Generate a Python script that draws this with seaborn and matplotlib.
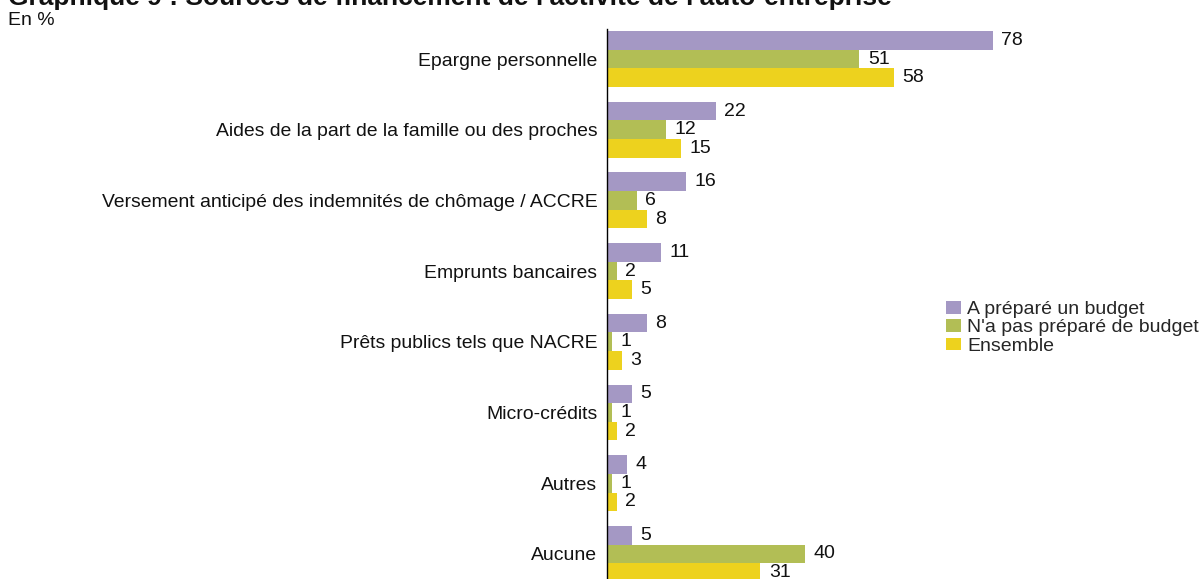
import matplotlib
matplotlib.use("Agg")
import matplotlib.pyplot as plt
import pandas as pd
import seaborn as sns

categories = [
    "Epargne personnelle",
    "Aides de la part de la famille ou des proches",
    "Versement anticipé des indemnités de chômage / ACCRE",
    "Emprunts bancaires",
    "Prêts publics tels que NACRE",
    "Micro-crédits",
    "Autres",
    "Aucune",
]
series = ["A préparé un budget", "N'a pas préparé de budget", "Ensemble"]
budget = [78, 22, 16, 11, 8, 5, 4, 5]
no_budget = [51, 12, 6, 2, 1, 1, 1, 40]
ensemble = [58, 15, 8, 5, 3, 2, 2, 31]
colors = ["#A498C4", "#B2BE55", "#EDD21E"]

rows = []
for name, vals in zip(series, [budget, no_budget, ensemble]):
    for cat, v in zip(categories, vals):
        rows.append({"cat": cat, "serie": name, "val": v})
df = pd.DataFrame(rows)

sns.set_theme(style="white")
plt.rcParams["font.family"] = ["Liberation Sans", "DejaVu Sans"]

FS = 14
W, H = 1202, 579
fig = plt.figure(figsize=(W / 100, H / 100), dpi=100)
ax_left, ax_top = 607, 28.6
ax = fig.add_axes([ax_left / W, 0, 495 / W, (H - ax_top) / H])

sns.barplot(data=df, x="val", y="cat", hue="serie", order=categories,
            hue_order=series, palette=colors, orient="h", width=0.79,
            saturation=1, linewidth=0, edgecolor="none", ax=ax, legend=True)

for cont in ax.containers:
    ax.bar_label(cont, padding=6, fontsize=FS, color="#111111")

ax.set_xlim(0, 100)
ax.set_ylim(7.355, -0.43)
ax.set_xlabel("")
ax.set_ylabel("")
ax.set_xticks([])
ax.tick_params(axis="y", length=0, pad=7, labelsize=13.95, labelcolor="#111111")
for s in ["top", "right", "bottom"]:
    ax.spines[s].set_visible(False)
ax.spines["left"].set_color("black")
ax.spines["left"].set_linewidth(1)

leg = ax.legend(loc="upper left", bbox_to_anchor=(946 / W, 1 - 301 / H),
                bbox_transform=fig.transFigure, frameon=False,
                fontsize=FS, handlelength=0.78, handleheight=0.62,
                handletextpad=0.3, labelspacing=0.06, borderaxespad=0,
                borderpad=0)

fig.text(8 / W, 1 - 4.5 / H,
         "Graphique 9 : Sources de financement de l'activité de l'auto-entreprise",
         fontsize=19, fontweight="bold", ha="left", va="baseline", color="#111111")
fig.text(8 / W, 1 - 20.5 / H, "En %", fontsize=FS, ha="left", va="center",
         color="#111111")

fig.savefig("out.png", dpi=100)
